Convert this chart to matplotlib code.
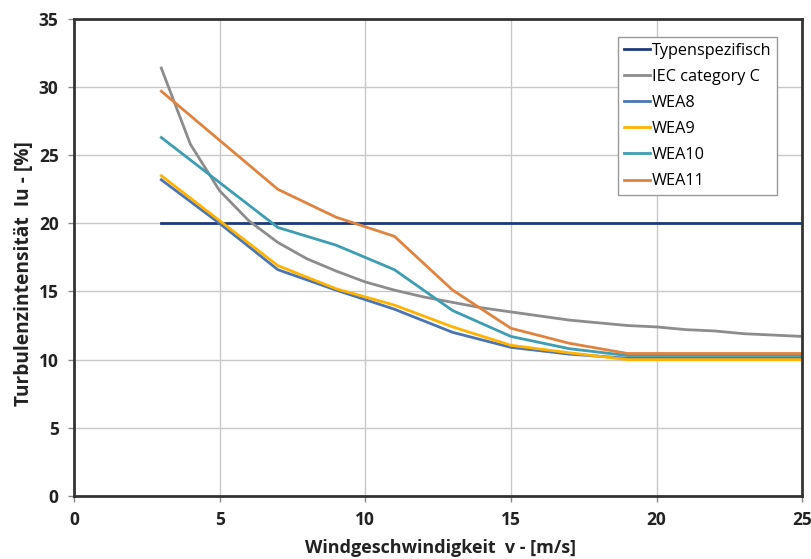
import matplotlib.pyplot as plt

# Windgeschwindigkeit [m/s]
v_typ = [3, 25]
ti_typ = [20.0, 20.0]

v_iec = list(range(3, 26))
ti_iec = [31.4, 25.8, 22.4, 20.2, 18.6, 17.4, 16.5, 15.7, 15.1, 14.6, 14.2, 13.8,
          13.5, 13.2, 12.9, 12.7, 12.5, 12.4, 12.2, 12.1, 11.9, 11.8, 11.7]

v_wea = [3, 5, 7, 9, 11, 13, 15, 17, 19, 21, 23, 25]
ti_wea8 = [23.2, 20.0, 16.6, 15.1, 13.7, 12.0, 10.9, 10.4, 10.1, 10.1, 10.1, 10.1]
ti_wea9 = [23.5, 20.2, 16.9, 15.2, 14.0, 12.4, 11.05, 10.5, 10.0, 10.0, 10.0, 10.0]
ti_wea10 = [26.3, 23.0, 19.7, 18.4, 16.6, 13.6, 11.7, 10.8, 10.3, 10.3, 10.3, 10.3]
ti_wea11 = [29.7, 26.1, 22.5, 20.45, 19.05, 15.1, 12.3, 11.2, 10.45, 10.45, 10.45, 10.45]

plt.rcParams['font.family'] = ['Open Sans', 'DejaVu Sans']

fig = plt.figure(figsize=(8.12, 5.59), dpi=100)
ax = fig.add_axes([0.091, 0.113, 0.897, 0.853])

ax.plot(v_typ, ti_typ, color='#1f3a7a', lw=2, label='Typenspezifisch')
ax.plot(v_iec, ti_iec, color='#8c8c8c', lw=2, label='IEC category C')
ax.plot(v_wea, ti_wea8, color='#4a74b4', lw=2, label='WEA8')
ax.plot(v_wea, ti_wea9, color='#ffb300', lw=2, label='WEA9')
ax.plot(v_wea, ti_wea10, color='#3d9db3', lw=2, label='WEA10')
ax.plot(v_wea, ti_wea11, color='#e0833f', lw=2, label='WEA11')

ax.set_xlim(0, 25)
ax.set_ylim(0, 35)
ax.set_xticks(range(0, 26, 5))
ax.set_yticks(range(0, 36, 5))
ax.grid(True, color='#c8c8c8', lw=1)
ax.set_axisbelow(True)

for s in ax.spines.values():
    s.set_linewidth(2)
    s.set_color('#333333')

ax.tick_params(axis='both', labelsize=12.5, colors='#888888', length=4, width=1, pad=7)
for lab in ax.get_xticklabels() + ax.get_yticklabels():
    lab.set_color('#222222')
    lab.set_fontweight('bold')

ax.set_xlabel('Windgeschwindigkeit  v - [m/s]', fontsize=13, fontweight='bold',
              color='#222222', va='center')
ax.set_ylabel('Turbulenzintensität  Iu - [%]', fontsize=13.8, fontweight='bold',
              color='#222222', va='center')
ax.xaxis.set_label_coords(0.503, -0.109)
ax.yaxis.set_label_coords(-0.069, 0.466)

leg = ax.legend(loc='upper right', bbox_to_anchor=(0.966, 0.962), fontsize=11.7,
                fancybox=False, framealpha=1, edgecolor='#999999',
                handlelength=1.6, handletextpad=0.15, borderpad=0.35,
                borderaxespad=0, labelspacing=0.62)
leg.get_frame().set_linewidth(1)

fig.savefig('out.png', dpi=100)
